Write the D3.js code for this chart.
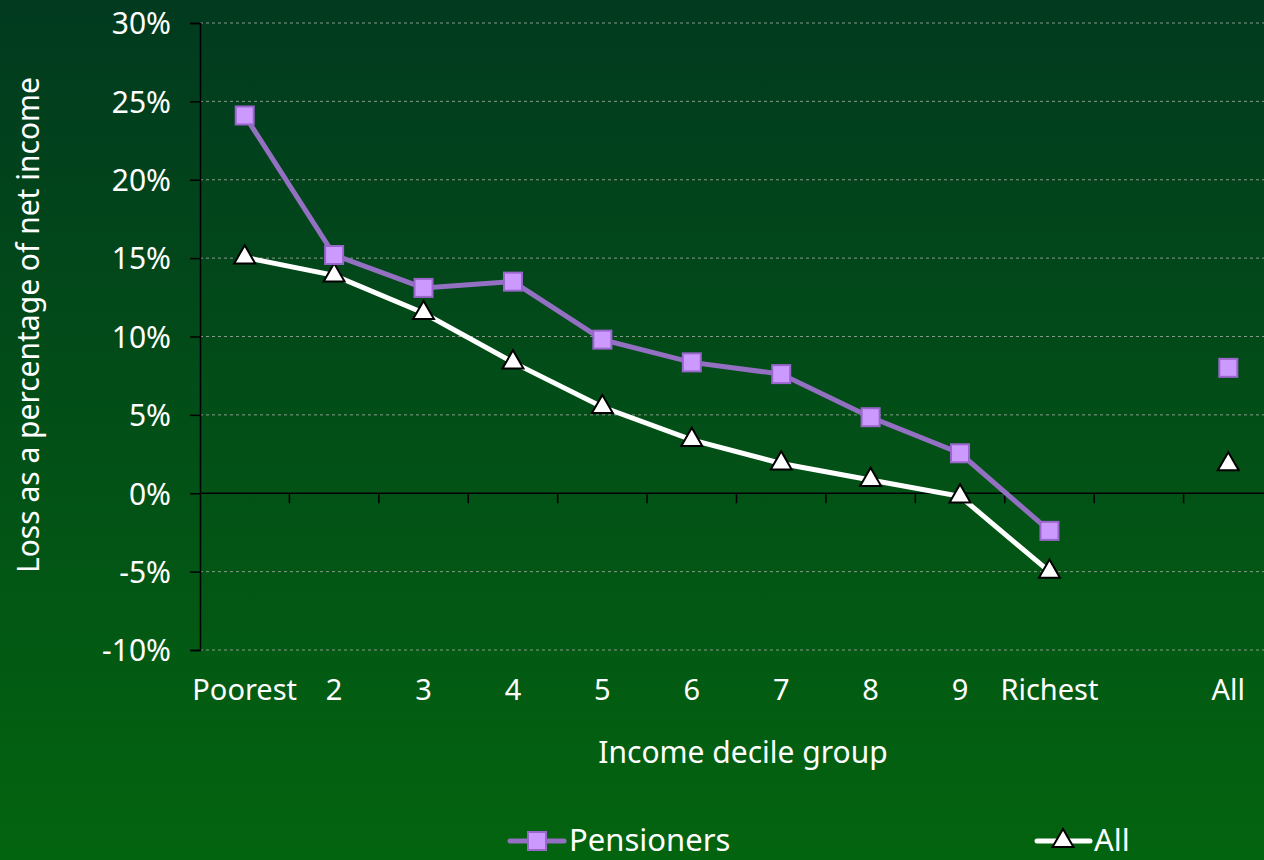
<!DOCTYPE html>
<html><head><meta charset="utf-8">
<script src="https://cdn.jsdelivr.net/npm/d3@7"></script>
<style>html,body{margin:0;padding:0;overflow:hidden;}svg{display:block;}</style>
</head><body>
<script>
const categories = ["Poorest","2","3","4","5","6","7","8","9","Richest","","All"];
const pensioners = [24.1,15.2,13.1,13.5,9.8,8.35,7.6,4.85,2.55,-2.4,null,8.0];
const allHouseholds = [15.05,13.9,11.5,8.35,5.5,3.4,1.9,0.85,-0.2,-5.0,null,1.85];
const yTicks = [-10,-5,0,5,10,15,20,25,30];
const seriesNames = ["Pensioners","All"];

const W=1264,H=860;
const svg=d3.select("body").append("svg").attr("width",W).attr("height",H);
const defs=svg.append("defs");
const grad=defs.append("linearGradient").attr("id","bg").attr("x1",0).attr("y1",0).attr("x2",0).attr("y2",1);
grad.append("stop").attr("offset","0%").attr("stop-color","#013a1f");
grad.append("stop").attr("offset","100%").attr("stop-color","#03640f");
svg.append("rect").attr("width",W).attr("height",H).attr("fill","url(#bg)");

const font="'Noto Sans', 'Open Sans', sans-serif";
const x=d3.scaleBand().domain(categories.map((c,i)=>i)).range([200,1273]);
const y=d3.scaleLinear().domain([-10,30]).range([650,23]);

// gridlines
svg.append("g").selectAll("line").data(yTicks.filter(t=>t!==0)).join("line")
  .attr("x1",200).attr("x2",W).attr("y1",d=>y(d)).attr("y2",d=>y(d))
  .attr("stroke","#8a9a8a").attr("stroke-width",1).attr("stroke-dasharray","3,3");

// y axis
const yAxis=d3.axisLeft(y).tickValues(yTicks).tickSize(10).tickPadding(19).tickFormat(d=>d+"%");
const gy=svg.append("g").attr("transform","translate(200,0)").call(yAxis);
gy.select(".domain").attr("stroke","#000").attr("stroke-width",1.5);
gy.selectAll(".tick line").attr("stroke","#000").attr("stroke-width",1.5);
gy.selectAll(".tick text").attr("fill","#fff").attr("font-size",30).attr("font-family",font).attr("dy","0.36em");

// x axis at 0
const gx=svg.append("g").attr("transform",`translate(0,${y(0)})`);
gx.append("line").attr("x1",200).attr("x2",W).attr("stroke","#000").attr("stroke-width",1.5);
gx.selectAll("line.t").data(d3.range(1,12)).join("line").attr("class","t")
  .attr("x1",d=>200+d*x.step()).attr("x2",d=>200+d*x.step()).attr("y1",0).attr("y2",10)
  .attr("stroke","#000").attr("stroke-width",1.5);
svg.append("g").selectAll("text").data(categories).join("text")
  .attr("x",(d,i)=>x(i)+x.bandwidth()/2).attr("y",700).attr("text-anchor","middle")
  .attr("fill","#fff").attr("font-size",29).attr("font-family",font).text(d=>d);

// axis titles
svg.append("text").attr("x",743).attr("y",763).attr("text-anchor","middle").attr("fill","#fff")
  .attr("font-size",30).attr("font-family",font).text("Income decile group");
svg.append("text").attr("transform","translate(39,325) rotate(-90)").attr("text-anchor","middle").attr("fill","#fff")
  .attr("font-size",30).attr("font-family",font).text("Loss as a percentage of net income");

const cx=i=>x(i)+x.bandwidth()/2;
const line=d3.line().defined(d=>d.v!==null).x(d=>cx(d.i)).y(d=>y(d.v));
const pData=pensioners.map((v,i)=>({v,i}));
const aData=allHouseholds.map((v,i)=>({v,i}));
// only the deciles connect; "All" stands alone
svg.append("path").datum(aData.slice(0,10)).attr("d",line).attr("fill","none").attr("stroke","#fff").attr("stroke-width",5);
svg.append("path").datum(pData.slice(0,10)).attr("d",line).attr("fill","none").attr("stroke","#9370c2").attr("stroke-width",5);

const tri=d3.symbol().type(d3.symbolTriangle).size(190);
svg.append("g").selectAll("path").data(aData.filter(d=>d.v!==null)).join("path")
  .attr("d",tri).attr("transform",d=>`translate(${cx(d.i)},${y(d.v)})`)
  .attr("fill","#fff").attr("stroke","#000").attr("stroke-width",2);
svg.append("g").selectAll("rect").data(pData.filter(d=>d.v!==null)).join("rect")
  .attr("x",d=>cx(d.i)-9).attr("y",d=>y(d.v)-9).attr("width",18).attr("height",18)
  .attr("fill","#cc99ff").attr("stroke","#9966cc").attr("stroke-width",2);

// legend
const lg=svg.append("g");
lg.append("line").attr("x1",510).attr("x2",564).attr("y1",841).attr("y2",841).attr("stroke","#9370c2").attr("stroke-width",5).attr("stroke-linecap","round");
lg.append("rect").attr("x",528).attr("y",832).attr("width",18).attr("height",18).attr("fill","#cc99ff").attr("stroke","#9966cc").attr("stroke-width",2);
lg.append("text").attr("x",569).attr("y",851).attr("fill","#fff").attr("font-size",31).attr("font-family",font).text(seriesNames[0]);
lg.append("line").attr("x1",1037).attr("x2",1090).attr("y1",841).attr("y2",841).attr("stroke","#fff").attr("stroke-width",5).attr("stroke-linecap","round");
lg.append("path").attr("d",tri).attr("transform","translate(1063,841)").attr("fill","#fff").attr("stroke","#000").attr("stroke-width",2);
lg.append("text").attr("x",1094).attr("y",851).attr("fill","#fff").attr("font-size",31).attr("font-family",font).text(seriesNames[1]);
</script>
</body></html>
